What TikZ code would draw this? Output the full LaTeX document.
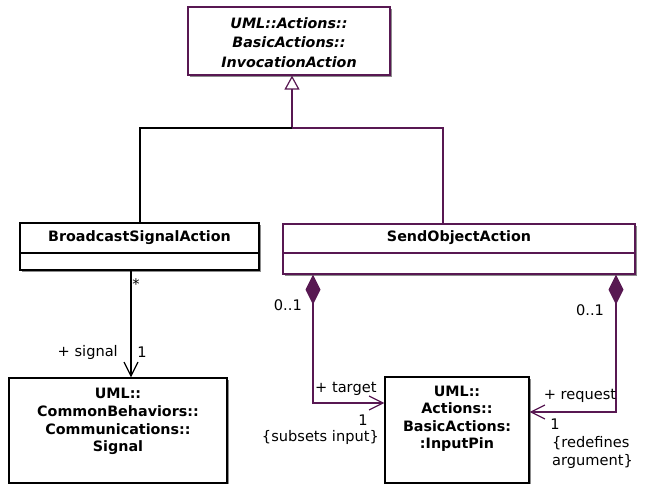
\documentclass[tikz,border=0pt]{standalone}
\usepackage{fontspec}
\setmainfont{DejaVu Sans}
\usetikzlibrary{arrows.meta,shadows}
\definecolor{umlp}{RGB}{88,24,82}
\begin{document}
\begin{tikzpicture}[x=1pt,y=-1pt,
  box/.style={draw, fill=white, line width=1.2pt, inner sep=0pt,
    drop shadow={shadow xshift=2pt, shadow yshift=-2pt, fill=black!45, opacity=1}},
  cname/.style={font=\fontsize{14.3}{18}\selectfont\bfseries, align=center, inner sep=0pt},
  lbl/.style={font=\fontsize{14.6}{18}\selectfont, inner sep=0pt},
  conn/.style={line width=1.2pt},
  openv/.style={-{Straight Barb[length=14pt,width=14pt,line width=1.2pt]}},
  comp/.style={{Diamond[length=30pt,width=15pt]}-{Straight Barb[length=14pt,width=14pt,line width=1.2pt]}}
]
\useasboundingbox (0,0) rectangle (649,484);

% classes
\node[box, draw=umlp, minimum width=202pt, minimum height=68pt] (top) at (289,41) {};
\node[cname, font=\fontsize{14.3}{19.5}\selectfont\bfseries\itshape] (toptxt) at (289,42.5)
  {UML::Actions::\\BasicActions::\\InvocationAction};

\node[box, minimum width=239pt, minimum height=47pt] (bsa) at (139.5,246.5) {};
\node[cname] (bsatxt) at (139.5,238) {BroadcastSignalAction};
\draw[line width=1.2pt] (bsa.west |- 0,253) -- (bsa.east |- 0,253);

\node[box, draw=umlp, minimum width=352pt, minimum height=50pt] (soa) at (459,249) {};
\node[cname] (soatxt) at (459,238) {SendObjectAction};
\draw[line width=1.2pt, umlp] (soa.west |- 0,253) -- (soa.east |- 0,253);

\node[box, minimum width=218pt, minimum height=105pt] (sig) at (118,430.5) {};
\node[cname, font=\fontsize{14.3}{17.7}\selectfont\bfseries] (sigtxt) at (118,421.5)
  {UML::\\CommonBehaviors::\\Communications::\\Signal};

\node[box, minimum width=144pt, minimum height=106pt] (pin) at (457,430) {};
\node[cname, font=\fontsize{14.3}{17.5}\selectfont\bfseries] (pintxt) at (457,419)
  {UML::\\Actions::\\BasicActions:\\:InputPin};

% generalization
\coordinate (j) at (292,128);
\coordinate (lx) at (140,0);
\coordinate (rx) at (443,0);
\draw[conn, umlp, -{Triangle[open,fill=white,length=14pt,width=15pt,line width=1.2pt]}] (j) -- (j |- top.south);
\draw[conn] (j) -| (lx |- bsa.north);
\draw[conn, umlp] (j) -| (rx |- soa.north);

% association BroadcastSignalAction -> Signal
\coordinate (ax) at (131,0);
\draw[conn, openv] (ax |- bsa.south) -- (ax |- sig.north);
\node[lbl] (star) at (136,284) {*};
\node[lbl, anchor=east] (sigrole) at (118,352) {+ signal};
\node[lbl] (sigmult) at (142,352) {1};

% compositions
\coordinate (c1) at (313,0);
\coordinate (c1y) at (0,403);
\draw[conn, umlp, comp] (c1 |- soa.south) |- (pin.west |- c1y);
\node[lbl, anchor=east] (m1) at (302,305) {0..1};
\node[lbl, anchor=west] (r1) at (315,389) {+ target};
\node[lbl] (n1) at (363,420) {1};
\node[lbl, anchor=east] (k1) at (379,437) {\{subsets input\}};

\coordinate (c2) at (616,0);
\coordinate (c2y) at (0,412);
\draw[conn, umlp, comp] (c2 |- soa.south) |- (pin.east |- c2y);
\node[lbl] (m2) at (590,310) {0..1};
\node[lbl] (r2) at (580,396) {+ request};
\node[lbl] (n2) at (555,424) {1};
\node[lbl, anchor=west, align=left] (k2) at (552,452) {\{redefines\\argument\}};
\end{tikzpicture}
\end{document}
